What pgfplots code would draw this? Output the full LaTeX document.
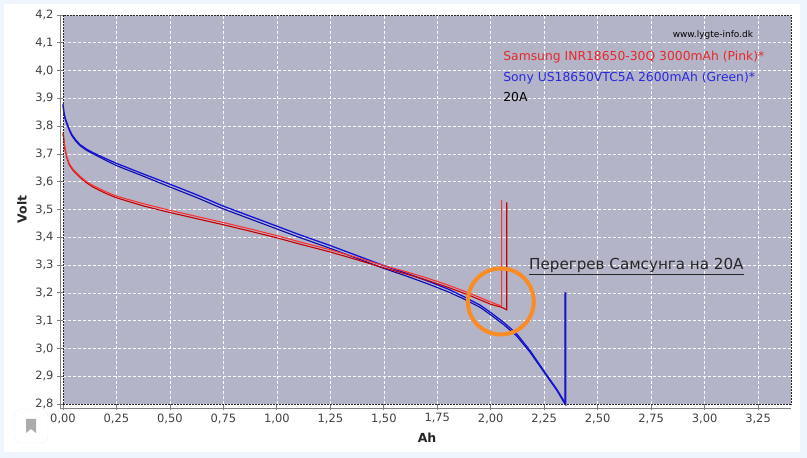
\documentclass[border=0pt]{standalone}
\usepackage{pgfplots}
\pgfplotsset{compat=1.18}
\usepackage{fontspec}
\setmainfont{DejaVu Sans}
\definecolor{plotbg}{RGB}{180,180,200}
\definecolor{redA}{RGB}{250,50,50}
\definecolor{redB}{RGB}{195,0,0}
\definecolor{blueA}{RGB}{20,20,215}
\definecolor{blueB}{RGB}{10,10,175}
\definecolor{circ}{RGB}{250,140,35}
\definecolor{legred}{RGB}{232,40,40}
\definecolor{legblue}{RGB}{40,40,222}
\definecolor{pageblue}{RGB}{238,245,252}
\begin{document}
\begin{tikzpicture}
\fill[pageblue] (0,0) rectangle (807bp,458bp);
\fill[white] (4bp,6bp) rectangle (800bp,454bp);
\draw[gray!12, fill=white, rounded corners=7bp] (14bp,15bp) rectangle (48bp,49bp);
\fill[gray!65] (26bp,25bp) -- (26bp,39bp) -- (36bp,39bp) -- (36bp,25bp) -- (31bp,29bp) -- cycle;
\begin{axis}[at={(63bp,54bp)}, anchor=south west, scale only axis,
  width=728bp, height=389bp,
  xmin=0, xmax=3.404, ymin=2.8, ymax=4.2,
  clip=false,
  axis background/.style={fill=plotbg},
  axis line style={draw=none},
  grid=major, grid style={white, dash pattern=on 3bp off 2bp, line width=0.6bp},
  xtick={0,0.25,0.5,0.75,1,1.25,1.5,1.75,2,2.25,2.5,2.75,3,3.25},
  ytick={2.8,2.9,3.0,3.1,3.2,3.3,3.4,3.5,3.6,3.7,3.8,3.9,4.0,4.1,4.2},
  tick align=outside, xtick pos=bottom, ytick pos=left,
  major tick length=6bp, tick style={gray, line width=0.8bp},
  xticklabel={\pgfmathprintnumber[fixed,fixed zerofill,precision=2,use comma,assume math mode=true]{\tick}},
  yticklabel={\pgfmathprintnumber[fixed,fixed zerofill,precision=1,use comma,assume math mode=true]{\tick}},
  tick label style={font=\fontsize{11.5}{13}\selectfont, text=black!75},
]
\addplot[blueB, line width=1.1bp] coordinates {(0,3.874)(0.004,3.848)(0.010,3.826)(0.017,3.810)(0.030,3.784)(0.041,3.766)(0.060,3.746)(0.079,3.730)(0.110,3.713)(0.142,3.700)(0.200,3.677)(0.250,3.658)(0.375,3.620)(0.500,3.581)(0.625,3.543)(0.750,3.502)(0.875,3.466)(1.000,3.430)(1.100,3.401)(1.250,3.360)(1.375,3.324)(1.500,3.288)(1.600,3.262)(1.700,3.234)(1.800,3.204)(1.872,3.179)(1.950,3.148)(2.000,3.121)(2.060,3.086)(2.121,3.045)(2.184,2.986)(2.254,2.909)(2.309,2.849)(2.347,2.800)(2.347,3.202)};
\addplot[blueA, line width=1.3bp] coordinates {(0,3.880)(0.004,3.852)(0.010,3.830)(0.017,3.814)(0.030,3.788)(0.041,3.770)(0.060,3.750)(0.079,3.734)(0.110,3.717)(0.142,3.704)(0.200,3.683)(0.250,3.666)(0.375,3.628)(0.500,3.591)(0.625,3.553)(0.750,3.512)(0.875,3.476)(1.000,3.440)(1.100,3.411)(1.250,3.370)(1.375,3.334)(1.500,3.298)(1.600,3.272)(1.700,3.244)(1.800,3.214)(1.872,3.187)(1.950,3.156)(2.000,3.129)(2.060,3.094)(2.121,3.053)(2.184,2.992)(2.254,2.913)(2.309,2.853)(2.351,2.800)(2.351,3.202)};
\addplot[redB, line width=1.1bp] coordinates {(0,3.773)(0.003,3.757)(0.008,3.722)(0.017,3.688)(0.030,3.660)(0.048,3.640)(0.079,3.616)(0.110,3.596)(0.142,3.580)(0.200,3.558)(0.250,3.542)(0.375,3.513)(0.500,3.489)(0.625,3.467)(0.750,3.445)(0.875,3.422)(1.000,3.398)(1.100,3.377)(1.250,3.347)(1.375,3.319)(1.500,3.290)(1.600,3.269)(1.700,3.246)(1.800,3.220)(1.900,3.191)(2.000,3.159)(2.051,3.148)(2.075,3.139)(2.075,3.526)};
\addplot[redA, line width=1.1bp] coordinates {(0,3.777)(0.003,3.763)(0.008,3.728)(0.017,3.692)(0.030,3.664)(0.048,3.644)(0.079,3.620)(0.110,3.600)(0.142,3.586)(0.200,3.564)(0.250,3.548)(0.375,3.521)(0.500,3.497)(0.625,3.475)(0.750,3.453)(0.875,3.430)(1.000,3.406)(1.100,3.385)(1.250,3.355)(1.375,3.327)(1.500,3.298)(1.600,3.277)(1.700,3.254)(1.800,3.228)(1.900,3.199)(2.000,3.167)(2.051,3.152)(2.051,3.535)};
% frame and axis lines
\draw[black!85, dash pattern=on 2bp off 1bp, line width=0.8bp] (rel axis cs:0,0) rectangle (rel axis cs:1,1);
\draw[gray, line width=0.8bp] ([xshift=-3bp]rel axis cs:0,1) -- ([xshift=-3bp,yshift=-4bp]rel axis cs:0,0) -- ([yshift=-4bp]rel axis cs:1,0);
% circle annotation
\draw[circ, line width=4bp] (axis cs:2.047,3.169) circle [radius=33bp];
\node[anchor=base west, inner sep=0pt, text=black!85, font=\fontsize{15.2}{17}\selectfont] at (axis cs:2.179,3.283) {\underline{Перегрев Самсунга на 20А}};
% texts
\node[anchor=base east, inner sep=0pt, font=\fontsize{9}{11}\selectfont] at (axis cs:3.227,4.12) {www.lygte-info.dk};
\node[anchor=base west, inner sep=0pt, text=legred, font=\fontsize{12.4}{14}\selectfont] at (axis cs:2.058,4.035) {Samsung INR18650-30Q 3000mAh (Pink)*};
\node[anchor=base west, inner sep=0pt, text=legblue, font=\fontsize{12.4}{14}\selectfont] at (axis cs:2.058,3.959) {Sony US18650VTC5A 2600mAh (Green)*};
\node[anchor=base west, inner sep=0pt, text=black, font=\fontsize{12.4}{14}\selectfont] at (axis cs:2.058,3.887) {20A};
\node[rotate=90, font=\bfseries\fontsize{12.5}{14}\selectfont, text=black!85] at ([xshift=-41bp]rel axis cs:0,0.5) {Volt};
\node[font=\bfseries\fontsize{12.5}{14}\selectfont, text=black!85] at ([yshift=-34bp]rel axis cs:0.5,0) {Ah};
\end{axis}
\end{tikzpicture}
\end{document}
